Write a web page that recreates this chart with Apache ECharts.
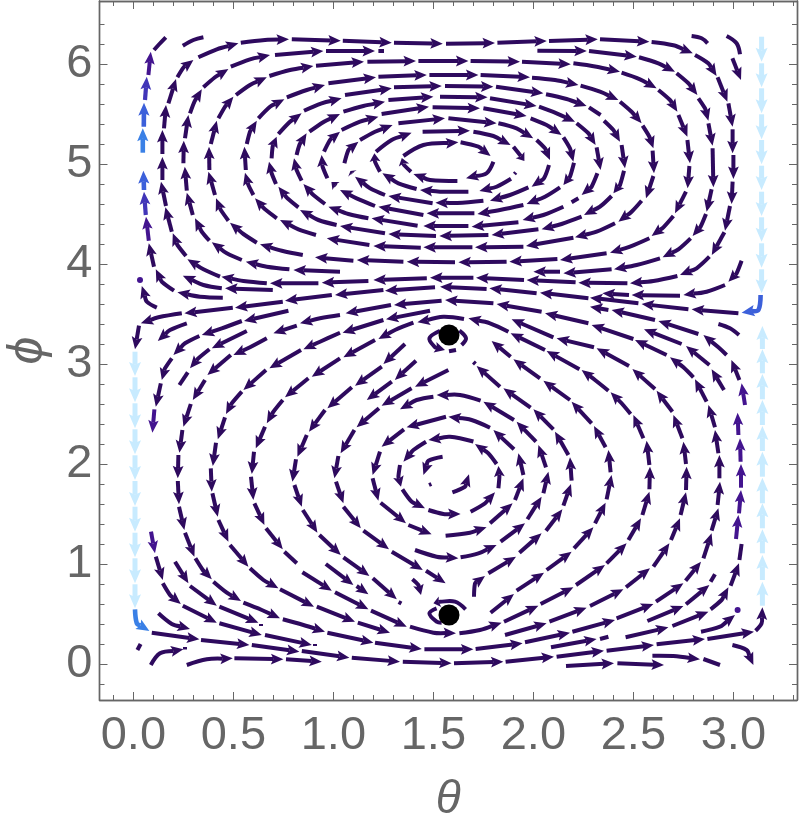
<!DOCTYPE html>
<html><head><meta charset="utf-8">
<style>html,body{margin:0;padding:0;background:#fff}#c{width:800px;height:828px}</style>
<script src="https://cdn.jsdelivr.net/npm/echarts@6/dist/echarts.min.js"></script>
</head><body><div id="c"></div>
<script>
const xMajorTicks=[0,0.5,1,1.5,2,2.5,3];
const yMajorTicks=[0,1,2,3,4,5,6];
const xMinorTicks=[-0.1,0.1,0.2,0.3,0.4,0.6,0.7,0.8,0.9,1.1,1.2,1.3,1.4,1.6,1.7,1.8,1.9,2.1,2.2,2.3,2.4,2.6,2.7,2.8,2.9,3.1,3.2,3.3];
const yMinorTicks=[-0.2,0.2,0.4,0.6,0.8,1.2,1.4,1.6,1.8,2.2,2.4,2.6,2.8,3.2,3.4,3.6,3.8,4.2,4.4,4.6,4.8,5.2,5.4,5.6,5.8,6.2,6.4];
const xAxisTitle='θ', yAxisTitle='ϕ';
// Each entry is one stream piece: theta,phi,theta,phi,... from tail to tip
const upperRing1=[[1.636,5.217,1.725,5.173,1.786,5.08],[1.80,5.023,1.766,4.907,1.663,4.857],[1.62,4.83,1.483,4.84,1.40,4.90],[1.388,4.923,1.353,4.99,1.342,5.06],[1.35,5.08,1.45,5.19,1.625,5.217]];
const upperRing2=[[1.446,5.323,1.683,5.333],[1.70,5.323,1.80,5.28,1.886,5.19],[1.90,5.173,1.933,5.09,1.955,5.03],[1.888,4.853,1.816,4.773,1.73,4.73],[1.675,4.723,1.533,4.723,1.433,4.74],[1.416,4.75,1.325,4.807,1.245,4.907],[1.233,4.923,1.208,5.023,1.205,5.107],[1.213,5.123,1.291,5.24,1.391,5.313]];
const upperRing3=[[1.575,5.457,1.816,5.407],[1.825,5.407,1.916,5.357,1.999,5.257],[2.016,5.24,2.058,5.157,2.083,5.04],[2.078,4.99,2.053,4.857,1.991,4.773],[1.975,4.767,1.883,4.69,1.783,4.633],[1.75,4.633,1.62,4.61,1.51,4.613],[1.496,4.607,1.275,4.68],[1.258,4.69,1.183,4.757,1.108,4.873],[1.095,4.905,1.085,4.93],[1.055,5.007,1.075,5.14,1.125,5.223],[1.133,5.24,1.208,5.323,1.296,5.39],[1.325,5.407,1.558,5.457]];
const upperRing4=[[1.496,5.567,1.733,5.557],[1.75,5.557,1.966,5.48],[1.986,5.457,2.066,5.39,2.141,5.29],[2.15,5.267,2.183,5.157,2.2,5.023],[2.203,5.013,2.183,4.873,2.15,4.79],[2.133,4.767,2.058,4.673,1.966,4.6],[1.95,4.59,1.833,4.54,1.72,4.5],[1.705,4.507,1.466,4.507],[1.45,4.49,1.225,4.573],[1.208,4.58,1.116,4.657,1.033,4.74],[1.013,4.78,0.99,4.82],[0.97,4.857,0.946,4.973,0.941,5.09],[0.953,5.123,0.983,5.24,1.033,5.323],[1.041,5.34,1.133,5.423,1.225,5.473],[1.241,5.50,1.478,5.573]];
const upperRing5=[[1.275,5.64,1.5,5.673],[1.533,5.673,1.771,5.667],[1.783,5.657,2.016,5.58],[2.028,5.573,2.116,5.507,2.208,5.423],[2.216,5.407,2.275,5.307,2.311,5.19],[2.316,5.167,2.336,4.94],[2.32,4.907,2.291,4.773,2.241,4.69],[2.15,4.573,2.05,4.49,1.946,4.44],[1.925,4.417,1.691,4.373],[1.675,4.38,1.45,4.38],[1.421,4.383,1.191,4.457],[1.175,4.457,1.075,4.5,0.975,4.573],[0.958,4.6,0.9,4.69,0.85,4.8],[0.841,4.833,0.816,4.94,0.803,5.057],[0.816,5.09,0.83,5.19,0.866,5.307],[0.88,5.323,0.953,5.423,1.033,5.5],[1.05,5.523,1.15,5.58,1.258,5.623]];
const upperRing6=[[1.558,5.78,1.80,5.773],[1.813,5.773,2.05,5.707],[2.063,5.697,2.166,5.65,2.266,5.58],[2.353,5.433,2.4,5.34,2.433,5.223],[2.441,5.19,2.458,4.957],[2.453,4.933,2.433,4.79,2.4,4.707],[2.391,4.68,2.333,4.573,2.253,4.49],[2.241,4.473,2.141,4.4,2.041,4.347],[2.025,4.347,1.791,4.29],[1.775,4.29,1.53,4.28],[1.513,4.28,1.275,4.30],[1.258,4.307,1.033,4.38],[1.016,4.39,0.925,4.44,0.833,4.54],[0.825,4.567,0.77,4.657,0.725,4.773],[0.713,4.8,0.691,4.907,0.678,5.023],[0.691,5.057,0.696,5.173,0.716,5.273],[0.725,5.3,0.78,5.417,0.841,5.507],[0.853,5.533,0.941,5.607,1.041,5.657],[1.058,5.69,1.292,5.757],[1.303,5.767,1.542,5.78]];
const upperRing7=[[1.18,4.19,0.967,4.257],[0.913,4.29,0.825,4.347,0.733,4.44],[0.717,4.457,0.658,4.547,0.608,4.657],[0.60,4.69,0.575,4.79,0.558,4.913],[0.562,4.94,0.555,5.173],[0.567,5.2,0.583,5.323,0.617,5.433],[0.625,5.457,0.683,5.573,0.755,5.647],[0.767,5.667,0.867,5.74,0.958,5.79],[0.975,5.807,1.213,5.867],[1.225,5.873,1.467,5.89],[1.48,5.89,1.725,5.89],[1.736,5.89,1.983,5.867],[1.993,5.863,2.108,5.84,2.225,5.79],[2.236,5.783,2.333,5.723,2.425,5.64],[2.433,5.623,2.491,5.523,2.541,5.407],[2.546,5.383,2.58,5.273,2.6,5.157],[2.596,5.133,2.603,4.907],[2.6,4.88,2.563,4.657],[2.541,4.633,2.491,4.523,2.425,4.423],[2.408,4.407,2.316,4.323,2.208,4.267],[2.2,4.263,1.963,4.18],[1.95,4.173,1.708,4.167],[1.695,4.167,1.45,4.167],[1.437,4.163,1.2,4.18]];
const upperRing8=[[0.847,4.09,0.742,4.133,0.633,4.197],[0.617,4.213,0.55,4.3,0.483,4.413],[0.475,4.433,0.437,4.54,0.413,4.657],[0.408,4.69,0.375,4.923],[0.38,4.94,0.378,5.173],[0.387,5.2,0.417,5.433],[0.425,5.457,0.458,5.573,0.5,5.673],[0.513,5.69,0.583,5.79,0.667,5.867],[0.68,5.88,0.783,5.94,0.90,5.98],[0.913,5.983,1.153,6.023],[1.17,6.023,1.413,6.03],[1.425,6.03,1.675,6.03],[1.686,6.03,1.933,6.023],[1.943,6.023,2.187,5.997],[2.2,6.007,2.316,5.973,2.433,5.923],[2.441,5.913,2.533,5.847,2.616,5.757],[2.625,5.74,2.683,5.64,2.72,5.523],[2.725,5.49,2.77,5.273],[2.77,5.24,2.783,5.007],[2.78,4.98,2.771,4.757],[2.763,4.723,2.708,4.507],[2.7,4.48,2.65,4.367,2.591,4.28],[2.58,4.257,2.483,4.173,2.383,4.113],[2.366,4.107,2.133,4.04],[2.12,4.05,1.88,4.023],[1.866,4.023,1.625,4.017],[1.608,4.017,1.367,4.023],[1.35,4.023,1.117,4.04],[1.10,4.033,0.908,4.067]];
const upperRing9=[[1.033,3.923,0.80,3.94],[0.78,3.947,0.667,3.973,0.562,4.023],[0.542,4.04,0.467,4.107,0.392,4.217],[0.38,4.233,0.342,4.323,0.308,4.457],[0.297,4.49,0.267,4.713],[0.267,4.733,0.257,4.973],[0.25,5.007,0.252,5.233],[0.258,5.257,0.275,5.49],[0.283,5.507,0.305,5.623,0.342,5.747],[0.35,5.767,0.408,5.867,0.475,5.95],[0.487,5.973,0.583,6.047,0.683,6.09],[0.708,6.09,0.95,6.13],[0.963,6.13,1.208,6.13],[2.02,6.133,2.267,6.13],[2.278,6.13,2.517,6.073],[2.528,6.067,2.625,6.007,2.708,5.923],[2.716,5.907,2.775,5.807,2.82,5.69],[2.825,5.657,2.858,5.557,2.875,5.433],[2.875,5.407,2.896,5.183],[2.896,5.157,2.9,4.767],[2.891,4.747,2.866,4.523],[2.863,4.5,2.836,4.373,2.796,4.28],[2.786,4.257,2.725,4.147,2.646,4.067],[2.633,4.057,2.516,3.99,2.403,3.947],[2.391,3.947,2.15,3.907],[2.133,3.923,2.0,3.923]];
const upperRing10=[[0.433,3.873,0.35,3.947,0.27,4.047],[0.263,4.08,0.22,4.19,0.197,4.307],[0.192,4.323,0.16,4.567],[0.163,4.58,0.138,4.823],[0.145,4.84,0.145,5.07],[0.145,5.10,0.145,5.34],[0.153,5.357,0.163,5.59],[0.175,5.607,0.213,5.85],[0.22,5.867,0.25,5.963,0.30,6.04],[0.325,6.067,0.417,6.147,0.525,6.207],[0.537,6.213,0.658,6.24,0.778,6.247],[0.792,6.247,1.037,6.233],[1.047,6.233,1.292,6.213],[1.303,6.213,1.547,6.203],[1.563,6.203,1.808,6.21],[1.82,6.213,2.067,6.23],[2.078,6.23,2.322,6.247],[2.333,6.247,2.58,6.223],[2.591,6.22,2.70,6.187,2.797,6.107],[2.808,6.09,2.875,6.007,2.916,5.88],[2.921,5.867,2.97,5.623],[2.975,5.607,2.996,5.373],[2.996,5.347,2.996,5.107],[3.0,5.09,3.0,4.85],[2.996,4.823,2.991,4.60],[2.983,4.58,2.958,4.333],[2.955,4.317,2.892,4.09],[2.88,4.073,2.816,3.957,2.733,3.89],[2.72,3.88,2.60,3.83,2.483,3.807],[2.47,3.807,2.225,3.813],[2.211,3.817,1.966,3.84],[1.953,3.84,1.713,3.863],[1.70,3.863,1.483,3.863],[1.467,3.857,1.20,3.84],[1.175,3.83,0.942,3.813],[0.925,3.807,0.683,3.807],[0.667,3.807,0.55,3.83,0.44,3.873]];
const upperRing11=[[0.447,3.663,0.333,3.673,0.22,3.717],[0.203,3.733,0.142,3.823,0.112,3.947],[0.103,3.973,0.077,4.207],[0.697,3.74,0.458,3.757],[0.442,3.757,0.35,3.79,0.247,3.883],[0.117,3.563,0.067,3.623,0.042,3.78],[2.995,6.057,3.038,5.84]];
const middleRows=[[3.041,4.033,3.016,3.907,2.975,3.823],[2.958,3.79,2.866,3.723,2.75,3.69],[2.733,3.683,2.491,3.69],[2.478,3.69,2.345,3.707],[3.025,3.507,2.791,3.547],[2.775,3.547,2.541,3.6],[2.525,3.607,2.283,3.663],[2.275,3.657,2.033,3.713],[2.016,3.707,1.78,3.757],[1.766,3.75,1.533,3.773],[1.508,3.767,1.258,3.733],[1.25,3.74,1.008,3.69],[0.992,3.69,0.758,3.633],[0.747,3.623,0.508,3.563],[0.497,3.563,0.255,3.507],[0.242,3.507,0.125,3.467,0.037,3.407],[0.028,3.383,0.008,3.147],[2.825,3.30,2.625,3.43],[2.608,3.44,2.391,3.54],[2.375,3.54,2.283,3.573],[2.275,3.407,2.058,3.507],[2.041,3.523,1.816,3.60],[1.80,3.607,1.558,3.64],[1.541,3.633,1.303,3.59],[1.288,3.59,1.061,3.507],[1.033,3.49,0.933,3.457,0.833,3.407],[0.817,3.383,0.70,3.307],[0.775,3.533,0.553,3.43],[0.542,3.43,0.442,3.357,0.342,3.29],[0.33,3.28,0.258,3.207,0.2,3.09],[0.267,3.407,0.183,3.34,0.122,3.23],[0.567,3.33,0.475,3.24,0.392,3.157],[2.966,3.09,2.925,3.167,2.85,3.29],[2.741,3.2,2.553,3.347]];
const lowerRing1=[[0.192,3.057,0.158,2.957,0.142,2.84],[0.137,2.807,0.112,2.573],[0.38,3.147,0.325,3.057,0.283,2.957],[0.667,3.257,0.583,3.167,0.5,3.09],[0.487,3.09,0.37,2.89],[0.358,2.84,0.297,2.64],[0.287,2.6,0.25,2.373],[0.245,2.34,0.23,2.113],[0.225,2.09,0.222,1.857],[0.222,1.83,0.228,1.597],[0.228,1.573,0.255,1.34],[0.258,1.313,0.305,1.073],[0.31,1.057,0.347,0.94,0.392,0.847],[0.4,0.823,0.467,0.713,0.538,0.63],[0.55,0.613,0.642,0.54,0.733,0.457],[0.747,0.447,0.85,0.39,0.958,0.323],[0.97,0.313,1.2,0.213],[1.208,0.213,1.442,0.15],[1.455,0.147,1.7,0.147],[1.711,0.15,1.946,0.207],[1.958,0.217,2.183,0.313],[2.195,0.323,2.408,0.44],[2.416,0.457,2.6,0.6],[2.613,0.623,2.75,0.807],[2.761,0.833,2.838,1.023],[2.85,1.057,2.891,1.307],[2.891,1.333,2.925,1.557],[2.921,1.59,2.933,1.823],[2.93,1.857,2.93,2.09],[2.925,2.107,2.908,2.34],[2.908,2.367,2.875,2.59],[2.866,2.623,2.808,2.847],[2.8,2.867,2.75,2.967,2.683,3.067],[2.666,3.09,2.508,3.24],[2.5,3.25,2.291,3.39]];
const lowerRing2=[[1.483,3.533,1.263,3.447],[1.25,3.44,1.046,3.313],[1.033,3.313,0.933,3.223,0.85,3.147],[0.838,3.14,0.68,2.957],[0.663,2.94,0.55,2.74],[0.542,2.723,0.492,2.607,0.463,2.5],[0.458,2.467,0.422,2.247],[0.413,2.213,0.397,1.98],[0.387,1.957,0.392,1.723],[0.395,1.707,0.422,1.473],[0.425,1.44,0.475,1.223],[0.483,1.19,0.575,0.973],[0.583,0.957,0.65,0.84,0.725,0.757],[0.733,0.747,0.903,0.573],[0.917,0.573,1.108,0.423],[1.122,0.413,1.283,0.313]];
const lowerRing3=[[1.653,3.45,1.55,3.473,1.42,3.417],[1.40,3.413,1.308,3.34,1.225,3.25],[1.208,3.24,1.05,3.067],[1.033,3.057,0.892,2.873],[0.875,2.857,0.758,2.667],[0.747,2.64,0.7,2.523,0.667,2.407],[0.658,2.373,0.612,2.157],[0.603,2.123,0.592,1.9],[0.588,1.873,0.6,1.64],[0.605,1.607,0.655,1.39],[0.663,1.357,0.747,1.147]];
const lowerRing4=[[0.845,0.917,0.992,0.733],[1.008,0.717,1.175,0.547],[1.188,0.533,1.367,0.373],[1.383,0.373,1.5,0.313,1.613,0.307],[1.63,0.307,1.733,0.34,1.841,0.413],[1.853,0.423,2.025,0.583],[2.036,0.6,2.2,0.767],[2.213,0.79,2.358,0.99],[2.366,1.007,2.466,1.207],[2.475,1.24,2.538,1.457],[2.545,1.49,2.58,1.723],[2.58,1.747,2.583,1.973],[2.58,1.99,2.566,2.233],[2.55,2.257,2.5,2.49],[2.486,2.5,2.441,2.607,2.386,2.717],[2.375,2.733,2.308,2.84,2.241,2.94],[2.23,2.947,2.066,3.13],[2.058,3.14,1.886,3.307],[1.875,3.323,1.783,3.407,1.675,3.457]];
const lowerRing5=[[1.858,0.29,2.066,0.407],[2.08,0.423,2.266,0.563],[2.283,0.58,2.45,0.747],[2.463,0.767,2.583,0.957],[2.6,0.973,2.68,1.207],[2.688,1.24,2.733,1.457],[2.736,1.49,2.763,1.717],[2.763,1.74,2.766,1.973],[2.763,2.0,2.75,2.223],[2.745,2.257,2.7,2.49],[2.695,2.523,2.616,2.733],[2.608,2.75,2.495,2.95],[2.478,2.98,2.316,3.157],[2.303,3.167,2.116,3.257],[2.1,3.267,1.891,3.447]];
const lowerRing6=[[1.786,0.513,1.903,0.70],[1.916,0.733,2.053,0.913],[2.066,0.94,2.191,1.123],[2.203,1.157,2.3,1.367],[2.308,1.407,2.361,1.613],[2.366,1.647,2.391,1.89],[2.386,1.917,2.375,2.14],[2.361,2.167,2.303,2.38],[2.291,2.407,2.191,2.623],[2.183,2.64,2.05,2.833],[2.033,2.857,1.9,3.047],[1.886,3.073,1.791,3.23]];
const lowerRing7=[[1.703,0.673,1.708,0.807,1.758,0.88],[1.775,0.907,1.913,1.073],[1.93,1.113,2.041,1.307],[2.063,1.333,2.145,1.547],[2.15,1.583,2.188,1.8],[2.191,1.833,2.183,2.067],[2.175,2.09,2.108,2.323],[2.1,2.347,2,2.547],[1.986,2.563,1.85,2.757],[1.833,2.773,1.716,2.98]];
const lowerRing8=[[1.408,1.14,1.516,1.073,1.625,1.057],[1.636,1.067,1.725,1.107,1.816,1.19],[1.836,1.223,1.958,1.407],[1.97,1.447,2.041,1.673],[2.05,1.707,2.075,1.923],[2.063,1.967,2.025,2.19],[2.013,2.223,1.916,2.423],[1.903,2.44,1.75,2.623],[1.736,2.633,1.633,2.69,1.516,2.69],[1.5,2.673,1.416,2.64,1.333,2.547]];
const lowerRing9=[[1.561,1.283,1.683,1.313,1.766,1.367],[1.783,1.407,1.896,1.607],[1.908,1.64,1.95,1.857],[1.95,1.89,1.925,2.107],[1.903,2.147,1.8,2.34],[1.783,2.363,1.691,2.44,1.575,2.473],[1.563,2.473,1.366,2.367],[1.353,2.347,1.241,2.173],[1.233,2.123,1.196,1.89],[1.196,1.857,1.225,1.633],[1.236,1.613,1.363,1.407],[1.375,1.39,1.491,1.297]];
const lowerRing10=[[1.686,1.523,1.758,1.607,1.808,1.717],[1.825,1.757,1.83,1.873,1.825,1.98],[1.816,2,1.775,2.107,1.708,2.2],[1.7,2.225,1.583,2.273,1.475,2.24],[1.463,2.223,1.4,2.14,1.35,2.023],[1.333,1.99,1.325,1.873,1.338,1.773],[1.345,1.747,1.391,1.623,1.458,1.557],[1.475,1.54,1.55,1.5,1.636,1.5],[1.595,1.717,1.658,1.773,1.678,1.897],[1.546,2.073,1.475,2.033,1.45,1.89]];
const lowerRing11=[[1.358,3.2,1.25,3.0],[1.242,2.973,1.108,2.783],[1.092,2.767,0.97,2.557],[0.958,2.54,0.878,2.323],[0.867,2.29,0.82,2.073],[0.813,2.047,0.795,1.823],[0.805,1.79,0.842,1.573],[0.847,1.54,0.92,1.313],[0.93,1.29,1.037,1.09],[1.05,1.067,1.18,0.88],[1.197,0.857,1.317,0.647]];
const lowerRing12=[[1.413,3.033,1.307,2.84],[1.292,2.823,1.167,2.64],[1.575,2.94,1.408,2.773],[1.391,2.757,1.241,2.583],[1.228,2.557,1.116,2.367],[1.105,2.34,1.036,2.107],[1.025,2.08,1.005,1.857],[1.013,1.823,1.05,1.607],[1.05,1.573,1.137,1.357],[1.15,1.333,1.278,1.147],[1.292,1.123,1.447,0.94],[1.463,0.933,1.561,0.807],[0.962,1.0,1.1,0.79],[1.116,0.78,1.175,0.697]];
const bottomRows=[[0.092,0.313,0.33,0.247],[0.338,0.24,0.58,0.19],[0.592,0.19,0.83,0.123],[0.842,0.13,1.08,0.063],[1.092,0.063,1.333,0.023],[1.347,0.023,1.591,0.007],[1.603,0.007,1.85,0.023],[1.861,0.023,2.103,0.073],[2.116,0.073,2.353,0.133],[2.366,0.133,2.603,0.19],[2.616,0.197,2.858,0.25],[2.87,0.25,3.103,0.323],[3.111,0.333,3.141,0.407,3.145,0.567],[0.125,0.507,0.192,0.4,0.283,0.35],[0.147,0.807,0.183,0.69,0.237,0.6],[0.247,0.583,0.417,0.413],[0.43,0.407,0.642,0.29],[0.658,0.29,0.892,0.19],[0.208,1.023,0.275,0.807],[0.283,0.78,0.417,0.583],[0.43,0.573,0.625,0.413],[0.112,1.073,0.147,0.84],[0.267,-0.01,0.367,0.047,0.497,0.057],[0.505,0.057,0.75,0.047],[0.763,0.047,0.942,0.023],[0.087,-0.01,0.133,0.107,0.25,0.147],[2.088,0.167,2.316,0.25],[2.461,0.267,2.675,0.367],[2.695,0.38,2.875,0.523],[2.886,0.547,2.941,0.64,2.975,0.767],[2.986,0.783,3.028,1.007],[2.57,0.43,2.75,0.58],[2.763,0.597,2.88,0.79],[2.838,0.323,2.933,0.373,3.008,0.49],[2.163,-0.02,2.403,0.007],[2.42,0.007,2.653,-0.01],[2.595,0.083,2.7,0.08,2.833,0.047],[2.995,0.19,3.066,0.14,3.1,-0.01],[2.88,2.99,2.763,3.18],[2.953,2.74,2.891,2.947],[3.03,2.84,2.99,3.04],[1.395,0.847,1.425,0.79,1.438,0.69]];
const dotLoops=[[1.533,3.333,1.48,3.257,1.508,3.167,1.558,3.14],[1.661,0.547,1.608,0.623,1.533,0.623,1.5,0.607]];
const darkStubs=[[1.225,6.13,1.253,6.13],[1.912,4.915,1.905,4.9],[2.225,4.657,2.191,4.617],[2.278,5.567,2.336,5.49],[2.333,0.25,2.375,0.273],[0.908,0.2,0.908,0.18],[0.638,0.4,0.638,0.38],[0.258,0.17,0.258,0.145],[1.326,0.62,1.34,0.605],[1.71,3.0,1.70,3.02],[0.103,6.14,0.13,6.2,0.162,6.267],[0.247,6.183,0.30,6.24,0.35,6.267],[2.791,6.28,2.841,6.257,2.871,6.207],[2.966,6.28,3.016,6.207,3.033,6.097],[2.925,3.40,2.983,3.357,3.028,3.29],[0.755,1.123,0.817,1.007],[2.85,0.05,2.933,-0.01],[2.886,0.823,2.908,0.897],[3.03,1.04,3.041,1.2],[1.578,3.127,1.613,3.14],[1.63,3.333,1.663,3.257,1.641,3.19],[1.516,0.557,1.48,0.507,1.516,0.423,1.541,0.413],[0.272,2.917,0.23,2.79],[1.49,1.80,1.478,1.79],[0.036,0.2,0.02,0.14]];
const violetArrows=[[0.105,2.547,0.095,2.313],[0.088,1.323,0.108,1.107],[0.077,4.233,0.063,4.473],[0.075,5.89,0.087,6.123],[3.013,1.25,3.025,1.49],[3.028,1.507,3.038,1.74],[3.038,1.763,3.038,2],[3.036,2.023,3.033,2.257],[3.025,2.29,3.021,2.513],[3.058,2.59,3.041,2.807]];
const indigoArrows=[[0.062,4.49,0.053,4.723],[0.058,5.64,0.067,5.873]];
const blueArrows=[[0.053,4.74,0.05,4.933],[0.052,5.373,0.053,5.613],[3.136,3.69,3.125,3.54,3.041,3.513]];
const azureArrows=[[0.047,5.113,0.047,5.357],[0.008,0.547,0.017,0.407,0.08,0.33]];
const skyLeft=[[0.008,3.123,0.008,2.88],[0.008,2.867,0.008,2.617],[0.008,2.607,0.008,2.357],[0.008,2.347,0.008,2.097],[0.008,2.087,0.008,1.84],[0.008,1.83,0.008,1.58],[0.008,1.573,0.008,1.323],[0.008,1.313,0.008,1.067],[0.008,1.057,0.008,0.807],[0.008,0.797,0.008,0.557]];
const skyRightLow=[[3.145,0.583,3.145,0.823],[3.145,0.84,3.145,1.09],[3.145,1.107,3.145,1.347],[3.145,1.357,3.145,1.607],[3.145,1.607,3.145,1.863],[3.145,1.873,3.145,2.123],[3.145,2.13,3.145,2.38],[3.145,2.39,3.145,2.64],[3.145,2.647,3.145,2.9],[3.145,2.907,3.145,3.147],[3.145,3.15,3.145,3.38]];
const skyRightHigh=[[3.141,6.273,3.141,6.023],[3.141,6.007,3.141,5.767],[3.141,5.757,3.141,5.507],[3.141,5.497,3.141,5.247],[3.141,5.24,3.141,4.997],[3.141,4.983,3.141,4.74],[3.141,4.723,3.141,4.48],[3.141,4.467,3.141,4.223],[3.141,4.207,3.141,3.963],[3.141,3.947,3.141,3.707]];
const equilibria=[[1.578,3.29],[1.578,0.49]];
const sourceDots=[[0.033,3.84],[3.021,0.54]];

const DARK='#2e0a5e', GREY='#666666';
const darkArrows=[].concat(upperRing1,upperRing2,upperRing3,upperRing4,upperRing5,upperRing6,upperRing7,upperRing8,upperRing9,upperRing10,upperRing11,middleRows,lowerRing1,lowerRing2,lowerRing3,lowerRing4,lowerRing5,lowerRing6,lowerRing7,lowerRing8,lowerRing9,lowerRing10,lowerRing11,lowerRing12,bottomRows,dotLoops);
function streamSeries(name,list,color,opt){
  opt=opt||{};
  const width=opt.width||4, head=opt.head===undefined?12.5:opt.head, half=opt.half||5.4;
  return {type:'custom',name,coordinateSystem:'cartesian2d',silent:true,clip:false,animation:false,
    data:list.map((d,i)=>[d[0],d[1],i]),
    encode:{x:0,y:1},
    renderItem(params,api){
      const d=list[api.value(2)], pts=[];
      for(let i=0;i<d.length;i+=2) pts.push(api.coord([d[i],d[i+1]]));
      const kids=[];
      if(head>0){
        const tip=pts[pts.length-1], prev=pts[pts.length-2];
        const dx=tip[0]-prev[0], dy=tip[1]-prev[1], len=Math.hypot(dx,dy)||1, ux=dx/len, uy=dy/len;
        const h=Math.min(head,len), hw=half;
        const bx=tip[0]-ux*h, by=tip[1]-uy*h;
        const nx=tip[0]-ux*h*0.8, ny=tip[1]-uy*h*0.8;
        const line=pts.slice(0,-1); line.push([nx,ny]);
        kids.push({type:'polyline',shape:{points:line,smooth:line.length>2?0.35:0},style:{stroke:color,fill:null,lineWidth:width,lineCap:'butt'}});
        kids.push({type:'polygon',shape:{points:[tip,[bx-uy*hw,by+ux*hw],[nx,ny],[bx+uy*hw,by-ux*hw]]},style:{fill:color}});
      } else {
        kids.push({type:'polyline',shape:{points:pts,smooth:pts.length>2?0.35:0},style:{stroke:color,fill:null,lineWidth:width,lineCap:'butt'}});
      }
      return {type:'group',children:kids};
    }};
}
const lab={fontFamily:'Liberation Sans, Arial, sans-serif',fontSize:47,color:GREY};
const baseX={type:'value',min:-0.1695,max:3.318,splitLine:{show:false},axisLine:{show:true,onZero:false,lineStyle:{color:GREY,width:1.4}},axisLabel:{show:false}};
const baseY={type:'value',min:-0.36,max:6.63,splitLine:{show:false},axisLine:{show:true,onZero:false,lineStyle:{color:GREY,width:1.4}},axisLabel:{show:false}};
const tick=(vals,len)=>({show:true,inside:true,length:len,customValues:vals,lineStyle:{color:GREY,width:1}});
const option={
  animation:false,backgroundColor:'#fff',
  grid:{left:99.5,right:3,top:1,bottom:128,containLabel:false,outerBoundsMode:'none'},
  xAxis:[
    Object.assign({},baseX,{position:'bottom',axisTick:tick(xMajorTicks,8),
      axisLabel:{show:true,customValues:xMajorTicks,formatter:v=>Number(v).toFixed(1),margin:13,hideOverlap:false,showMinLabel:true,showMaxLabel:true,...lab},
      name:xAxisTitle,nameLocation:'middle',nameGap:77,nameTextStyle:{fontFamily:'Liberation Sans',fontStyle:'italic',fontSize:46,color:GREY}}),
    Object.assign({},baseX,{position:'bottom',axisTick:tick(xMinorTicks,5)}),
    Object.assign({},baseX,{position:'top',axisTick:tick(xMajorTicks,8)}),
    Object.assign({},baseX,{position:'top',axisTick:tick(xMinorTicks,5)})
  ],
  yAxis:[
    Object.assign({},baseY,{position:'left',axisTick:tick(yMajorTicks,8),
      axisLabel:{show:true,customValues:yMajorTicks,formatter:v=>String(v),margin:7,hideOverlap:false,...lab},
      name:yAxisTitle,nameLocation:'middle',nameRotate:90,nameGap:46,nameTextStyle:{fontFamily:'Liberation Sans',fontStyle:'italic',fontSize:50,color:GREY}}),
    Object.assign({},baseY,{position:'left',axisTick:tick(yMinorTicks,5)}),
    Object.assign({},baseY,{position:'right',axisTick:tick(yMajorTicks,8)}),
    Object.assign({},baseY,{position:'right',axisTick:tick(yMinorTicks,5)})
  ],
  series:[
    streamSeries('sky left',skyLeft,'#c8ebff',{width:5,half:6,head:14}),
    streamSeries('sky right low',skyRightLow,'#c8ebff',{width:5,half:6,head:14}),
    streamSeries('sky right high',skyRightHigh,'#c8ebff',{width:5,half:6,head:14}),
    streamSeries('azure',azureArrows,'#3a80e6',{width:4.6,half:5.6,head:13}),
    streamSeries('blue',blueArrows,'#3c60da',{width:4.6,half:5.6,head:13}),
    streamSeries('indigo',indigoArrows,'#4135b8',{width:4.2,half:5.4,head:13}),
    streamSeries('violet',violetArrows,'#43148f',{width:4,half:5.2,head:12.5}),
    streamSeries('stream',darkArrows,DARK),
    streamSeries('stub',darkStubs,DARK,{head:0}),
    {type:'scatter',name:'source',data:sourceDots,symbolSize:6,itemStyle:{color:'#43148f',opacity:1},silent:true,z:5},
    {type:'scatter',name:'equilibrium',data:equilibria,symbolSize:21,itemStyle:{color:'#000',opacity:1},silent:true,z:6}
  ]
};
echarts.init(document.getElementById('c'),null,{renderer:'canvas'}).setOption(option);
</script></body></html>
